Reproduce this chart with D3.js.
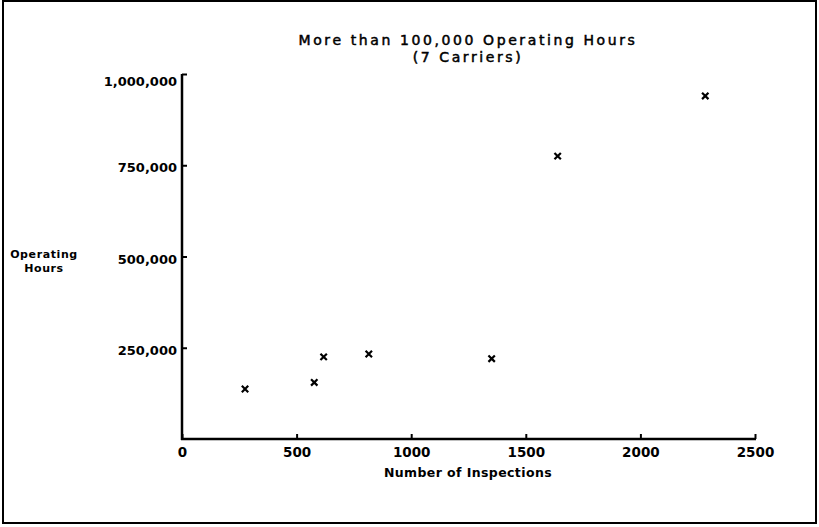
<!DOCTYPE html>
<html>
<head>
<meta charset="utf-8">
<script src="https://cdn.jsdelivr.net/npm/d3@7"></script>
<style>
  html, body { margin: 0; padding: 0; background: #fff; }
  svg { display: block; }
  text { fill: #000; }
</style>
</head>
<body>
<svg id="chart" width="819" height="527"></svg>
<script>
// ---- data ----
const inspections   = [275, 577, 618, 815, 1351, 1639, 2283];
const operatingHours = [137000, 155000, 225000, 233000, 220000, 775000, 940000];
const xTicks = [0, 500, 1000, 1500, 2000, 2500];
const yTicks = [250000, 500000, 750000, 1000000];
const titleLines = ["More than 100,000 Operating Hours", "(7 Carriers)"];
const xLabel = "Number of Inspections";
const yLabelLines = ["Operating", "Hours"];

const svg = d3.select("#chart");

// frame
svg.append("rect")
  .attr("x", 3).attr("y", 1).attr("width", 813).attr("height", 522)
  .attr("fill", "none").attr("stroke", "#000").attr("stroke-width", 2);

const x = d3.scaleLinear().domain([0, 2500]).range([182, 755]);
const y = d3.scaleLinear().domain([0, 1000000]).range([439, 74]);

const fmt = d3.format(",");
const font = "'DejaVu Sans', Verdana, sans-serif";

// y axis
const yAxis = d3.axisLeft(y).tickValues(yTicks).tickFormat(fmt)
  .tickSizeInner(-5).tickSizeOuter(0).tickPadding(5);
const gy = svg.append("g").attr("transform", `translate(${x(0)},0)`).call(yAxis);
gy.select(".domain").attr("stroke-width", 2.5).attr("d", `M0,${y(0)+1}V${y.range()[1]}`);
gy.selectAll(".tick line").attr("stroke-width", 2);
gy.selectAll(".tick text")
  .attr("font-family", font).attr("font-weight", "bold").attr("font-size", 13)
  .attr("dy", d => d === 1000000 ? "0.9em" : "0.5em").attr("fill", "#000");

// x axis
const xAxis = d3.axisBottom(x).tickValues(xTicks).tickFormat(d3.format("d"))
  .tickSizeInner(-5).tickSizeOuter(0).tickPadding(8);
const gx = svg.append("g").attr("transform", `translate(0,${y(0)})`).call(xAxis);
gx.select(".domain").attr("stroke-width", 2.5).attr("d", `M${x(0)-1},0H${x(2500)+1}`);
gx.selectAll(".tick line").attr("stroke-width", 2);
gx.selectAll(".tick text")
  .attr("font-family", font).attr("font-weight", "bold").attr("font-size", 13.5)
  .attr("fill", "#000");

// title
svg.append("text")
  .attr("x", 468).attr("y", 45).attr("text-anchor", "middle")
  .attr("font-family", font).attr("font-size", 14).attr("letter-spacing", 2.6)
  .attr("stroke", "#000").attr("stroke-width", 0.5)
  .text(titleLines[0]);
svg.append("text")
  .attr("x", 468).attr("y", 62).attr("text-anchor", "middle")
  .attr("font-family", font).attr("font-size", 14).attr("letter-spacing", 2.6)
  .attr("stroke", "#000").attr("stroke-width", 0.5)
  .text(titleLines[1]);

// axis labels
svg.append("text")
  .attr("x", 468).attr("y", 477).attr("text-anchor", "middle")
  .attr("font-family", font).attr("font-weight", "bold").attr("font-size", 12.5)
  .attr("letter-spacing", 0.4)
  .text(xLabel);
yLabelLines.forEach((t, i) => {
  svg.append("text")
    .attr("x", 44).attr("y", 258 + i * 14).attr("text-anchor", "middle")
    .attr("font-family", font).attr("font-weight", "bold").attr("font-size", 11)
    .attr("letter-spacing", 0.6)
    .text(t);
});

// points
const pts = inspections.map((v, i) => ({ x: v, y: operatingHours[i] }));
const s = 3.2;
svg.append("g").selectAll("path").data(pts).join("path")
  .attr("d", d => {
    const cx = x(d.x), cy = y(d.y);
    return `M${cx - s},${cy - s}L${cx + s},${cy + s}M${cx - s},${cy + s}L${cx + s},${cy - s}`;
  })
  .attr("stroke", "#000").attr("stroke-width", 2.2).attr("fill", "none");
</script>
</body>
</html>
